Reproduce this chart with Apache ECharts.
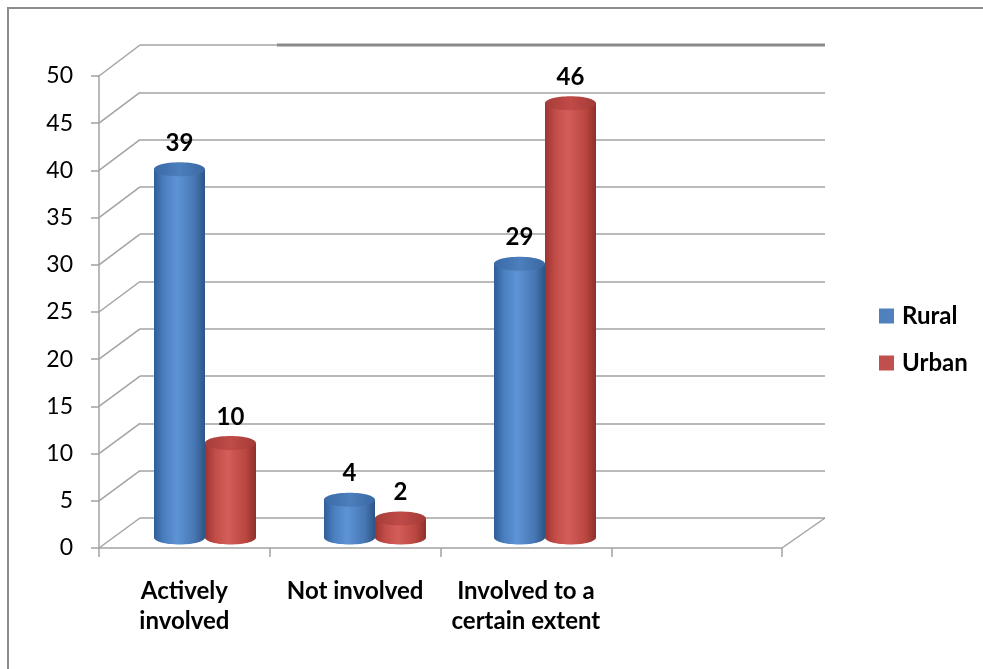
<!DOCTYPE html>
<html><head><meta charset="utf-8">
<script src="https://cdn.jsdelivr.net/npm/echarts@6/dist/echarts.min.js"></script>
<style>html,body{margin:0;padding:0;background:#fff;}#c{width:983px;height:669px;}</style>
</head><body><div id="c"></div>
<script>
const categories = ['Actively\ninvolved', 'Not involved', 'Involved to a\ncertain extent', ''];
const seriesNames = ['Rural', 'Urban'];
const rural = [39, 4, 29, null];
const urban = [10, 2, 46, null];
const yMin = 0, yMax = 50, yInterval = 5;

const FONT = 'Lato, "Open Sans", sans-serif';
const GRID_COLOR = '#a3a3a3';
// layout (pixels)
const back = {left: 140, right: 825, top: 45, bottom: 518};
const front = {left: 99, right: 782, top: 76, bottom: 548};
const mid = {left: 120, right: 800, top: 65.5, bottom: 537.5};
const W = 983, H = 669;

const colors = {
  Rural: {base: '#4F81BD', stops: ['#2f5e98', '#4a7fc0', '#5d94d6', '#4776b3', '#2c5584'], top: ['#3a69a6', '#4c7fbd', '#3a68a3']},
  Urban: {base: '#C0504D', stops: ['#9c3431', '#c24c48', '#d45e5a', '#b9463f', '#8f2f2c'], top: ['#a53d3a', '#c04b47', '#a23a37']}
};

function gridOf(g) { return {left: g.left, top: g.top, width: g.right - g.left, height: g.bottom - g.top}; }

function makeRender(name, sIdx) {
  const c = colors[name];
  return function (params, api) {
    const i = api.value(0), v = api.value(1);
    const top = api.coord([i, v]);
    const base = api.coord([i, 0]);
    const band = api.size([1, 0])[0];
    const hw = band * 0.15;
    const cx = top[0] + (sIdx === 0 ? -hw : hw);
    const ry = 7;
    const grad = new echarts.graphic.LinearGradient(0, 0, 1, 0, [
      {offset: 0, color: c.stops[0]}, {offset: 0.2, color: c.stops[1]},
      {offset: 0.45, color: c.stops[2]}, {offset: 0.8, color: c.stops[3]}, {offset: 1, color: c.stops[4]}]);
    const tgrad = new echarts.graphic.LinearGradient(0, 0, 1, 0, [
      {offset: 0, color: c.top[0]}, {offset: 0.5, color: c.top[1]}, {offset: 1, color: c.top[2]}]);
    return {
      type: 'group',
      children: [
        {type: 'ellipse', shape: {cx: cx, cy: base[1], rx: hw, ry: ry}, style: {fill: grad}},
        {type: 'rect', shape: {x: cx - hw, y: top[1], width: 2 * hw, height: base[1] - top[1]}, style: {fill: grad}},
        {type: 'ellipse', shape: {cx: cx, cy: top[1], rx: hw, ry: ry}, style: {fill: tgrad}},
        {type: 'text', style: {text: String(v), x: cx, y: top[1] - 26, align: 'center', verticalAlign: 'middle',
          font: 'bold 24px ' + FONT, fill: '#000'}}
      ]
    };
  };
}

const toData = arr => arr.map((v, i) => v == null ? null : [i, v]).filter(d => d);

const chart = echarts.init(document.getElementById('c'), null, {renderer: 'canvas'});
chart.setOption({
  animation: false,
  backgroundColor: '#fff',
  grid: [gridOf(back), gridOf(front), gridOf(mid)],
  xAxis: [
    {gridIndex: 0, type: 'category', data: categories, show: false},
    {gridIndex: 1, type: 'category', data: categories, boundaryGap: true,
      axisLine: {show: true, lineStyle: {color: GRID_COLOR, width: 1.5}},
      axisTick: {show: true, length: 9, lineStyle: {color: GRID_COLOR, width: 1.5}},
      axisLabel: {interval: 0, color: '#000', fontFamily: FONT, fontWeight: 'bold', fontSize: 24, lineHeight: 30, margin: 28}},
    {gridIndex: 2, type: 'category', data: categories, show: false}
  ],
  yAxis: [
    {gridIndex: 0, type: 'value', min: yMin, max: yMax, interval: yInterval,
      axisLine: {show: false}, axisTick: {show: false}, axisLabel: {show: false},
      splitLine: {show: true, lineStyle: {color: GRID_COLOR, width: 1.5}}},
    {gridIndex: 1, type: 'value', min: yMin, max: yMax, interval: yInterval,
      axisLine: {show: true, lineStyle: {color: GRID_COLOR, width: 1.5}},
      axisTick: {show: true, length: 8, lineStyle: {color: GRID_COLOR, width: 1.5}},
      axisLabel: {color: '#000', fontFamily: FONT, fontSize: 23, margin: 26},
      splitLine: {show: false}},
    {gridIndex: 2, type: 'value', min: yMin, max: yMax, interval: yInterval, show: false, splitLine: {show: false}}
  ],
  legend: {
    orient: 'vertical', left: 874, top: 299, itemWidth: 15, itemHeight: 15, itemGap: 23, icon: 'rect',
    textStyle: {color: '#000', fontFamily: FONT, fontWeight: 'bold', fontSize: 24, padding: [0, 0, 0, 3]},
    data: seriesNames
  },
  series: [
    {name: seriesNames[0], type: 'custom', xAxisIndex: 2, yAxisIndex: 2, itemStyle: {color: colors.Rural.base},
      renderItem: makeRender('Rural', 0), data: toData(rural), z: 5},
    {name: seriesNames[1], type: 'custom', xAxisIndex: 2, yAxisIndex: 2, itemStyle: {color: colors.Urban.base},
      renderItem: makeRender('Urban', 1), data: toData(urban), z: 5}
  ]
});

// perspective decorations computed through the axes
const gfx = [];
for (let v = yMin; v <= yMax; v += yInterval) {
  const yf = chart.convertToPixel({yAxisIndex: 1}, v);
  const yb = chart.convertToPixel({yAxisIndex: 0}, v);
  gfx.push({type: 'line', shape: {x1: front.left, y1: yf, x2: back.left, y2: yb}, style: {stroke: GRID_COLOR, lineWidth: 1.5}, z: 1});
}
const yf0 = chart.convertToPixel({yAxisIndex: 1}, yMin);
const yb0 = chart.convertToPixel({yAxisIndex: 0}, yMin);
const ybTop = chart.convertToPixel({yAxisIndex: 0}, yMax);
gfx.push({type: 'line', shape: {x1: front.right, y1: yf0, x2: back.right, y2: yb0}, style: {stroke: GRID_COLOR, lineWidth: 1.5}, z: 1});
gfx.push({type: 'line', shape: {x1: back.left + (back.right - back.left) * 0.2, y1: ybTop, x2: back.right, y2: ybTop}, style: {stroke: '#8a8a8a', lineWidth: 3}, z: 1});
gfx.push({type: 'rect', shape: {x: 8, y: 8, width: W + 50, height: H + 50}, style: {fill: 'none', stroke: '#8c8c8c', lineWidth: 2}, z: 0});
chart.setOption({graphic: gfx});
</script>
</body></html>
